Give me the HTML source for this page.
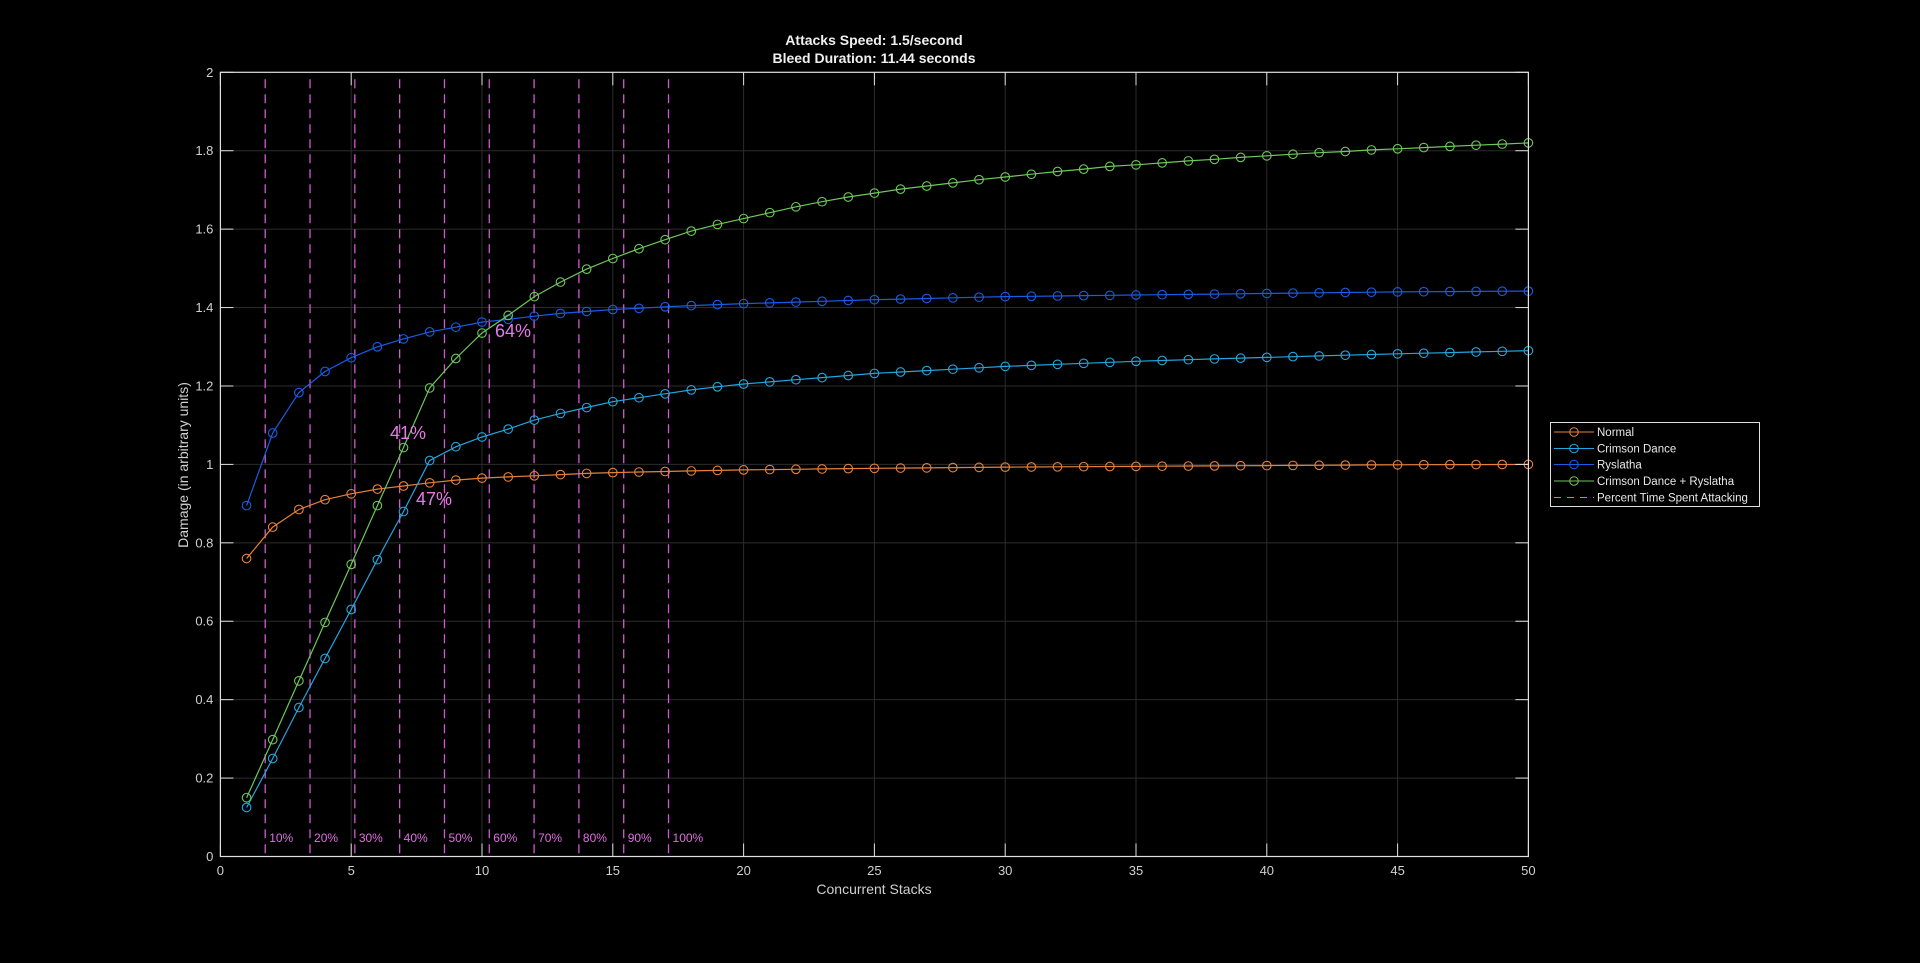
<!DOCTYPE html>
<html><head><meta charset="utf-8"><style>
html,body{margin:0;padding:0;background:#000;width:1920px;height:963px;overflow:hidden}
svg{display:block}
text{font-family:"Liberation Sans",Arial,sans-serif}
</style></head><body>
<svg id="s" width="1920" height="963" viewBox="0 0 1920 963" xmlns="http://www.w3.org/2000/svg">
<rect width="1920" height="963" fill="#000"/>
<g id="grid"></g>
<g id="dash"></g>
<g id="series"></g>
<g id="axes"></g>
<text x="874" y="45" fill="#f0f0f0" font-size="14" font-weight="bold" text-anchor="middle">Attacks Speed: 1.5/second</text>
<text x="874" y="63" fill="#f0f0f0" font-size="14" font-weight="bold" text-anchor="middle">Bleed Duration: 11.44 seconds</text>
<text x="874" y="894" fill="#d0d0d0" font-size="14" text-anchor="middle">Concurrent Stacks</text>
<text transform="translate(188,465) rotate(-90)" fill="#d0d0d0" font-size="14" text-anchor="middle">Damage (in arbitrary units)</text>
<text x="495" y="337" fill="#e87ae8" font-size="18">64%</text>
<text x="390" y="439" fill="#e87ae8" font-size="18">41%</text>
<text x="416" y="505" fill="#e87ae8" font-size="18">47%</text>
<g>
<rect x="1550.5" y="422.5" width="209" height="84" fill="#000" stroke="#e0e0e0" stroke-width="1"/>
<line x1="1554" y1="432" x2="1594" y2="432" stroke="#e8803a"/><circle cx="1574" cy="432" r="4.3" fill="none" stroke="#e8803a"/>
<text x="1597" y="436" fill="#e8e8e8" font-size="11.5">Normal</text>
<line x1="1554" y1="448.5" x2="1594" y2="448.5" stroke="#22a6e0"/><circle cx="1574" cy="448.5" r="4.3" fill="none" stroke="#22a6e0"/>
<text x="1597" y="452.5" fill="#e8e8e8" font-size="11.5">Crimson Dance</text>
<line x1="1554" y1="464.5" x2="1594" y2="464.5" stroke="#1a5ce6"/><circle cx="1574" cy="464.5" r="4.3" fill="none" stroke="#1a5ce6"/>
<text x="1597" y="468.5" fill="#e8e8e8" font-size="11.5">Ryslatha</text>
<line x1="1554" y1="481" x2="1594" y2="481" stroke="#6ec85a"/><circle cx="1574" cy="481" r="4.3" fill="none" stroke="#6ec85a"/>
<text x="1597" y="485" fill="#e8e8e8" font-size="11.5">Crimson Dance + Ryslatha</text>
<line x1="1554" y1="497.5" x2="1594" y2="497.5" stroke="#e060e0" stroke-dasharray="7,6"/>
<text x="1597" y="501.5" fill="#e8e8e8" font-size="11.5">Percent Time Spent Attacking</text>
</g>
</svg>
<script>
var NS="http://www.w3.org/2000/svg";
var X0=220.4,SX=26.16,Y0=856.5,SY=392.1,XR=X0+50*SX,YT=Y0-2*SY;
function X(v){return X0+v*SX}function Y(v){return Y0-v*SY}
function el(p,t,a,txt){var e=document.createElementNS(NS,t);for(var k in a)e.setAttribute(k,a[k]);if(txt!=null)e.textContent=txt;document.getElementById(p).appendChild(e);return e}
for(var i=5;i<50;i+=5)el("grid","line",{x1:X(i),y1:YT,x2:X(i),y2:Y0,stroke:"#2c2c2c","stroke-width":1});
for(var j=1;j<10;j++)el("grid","line",{x1:X0,y1:Y(j*0.2),x2:XR,y2:Y(j*0.2),stroke:"#2c2c2c","stroke-width":1});
for(var k=1;k<=10;k++){var xv=X(k*1.713);
el("dash","line",{x1:xv,y1:YT+7,x2:xv,y2:Y0,stroke:"#d458d4","stroke-width":1.3,"stroke-dasharray":"9,6"});
el("dash","text",{x:xv+4,y:842,fill:"#e070e0","font-size":12},(k*10)+"%");}
function interp(pts){var out=[];for(var n=1;n<=50;n++){for(var i=0;i<pts.length-1;i++){var a=pts[i],b=pts[i+1];if(n>=a[0]&&n<=b[0]){out.push(a[1]+(b[1]-a[1])*(n-a[0])/(b[0]-a[0]));break;}}}return out}
var normal=interp([[1,.76],[2,.84],[3,.885],[4,.91],[5,.925],[6,.937],[7,.945],[8,.953],[9,.96],[10,.965],[11,.968],[12,.971],[13,.974],[14,.977],[15,.979],[17,.982],[20,.986],[25,.99],[30,.993],[35,.995],[40,.997],[45,.999],[50,1.0]]);
var cd=interp([[1,.125],[2,.25],[3,.38],[4,.505],[5,.63],[6,.757],[7,.88],[8,1.01],[9,1.045],[10,1.07],[11,1.09],[12,1.113],[13,1.13],[14,1.145],[15,1.16],[16,1.17],[17,1.18],[18,1.19],[19,1.198],[20,1.205],[22,1.216],[25,1.232],[30,1.25],[35,1.263],[40,1.273],[45,1.282],[50,1.29]]);
var rys=interp([[1,.895],[2,1.08],[3,1.183],[4,1.237],[5,1.272],[6,1.3],[7,1.32],[8,1.338],[9,1.35],[10,1.363],[11,1.37],[12,1.378],[13,1.385],[14,1.39],[15,1.395],[16,1.398],[17,1.402],[18,1.405],[20,1.41],[25,1.42],[30,1.428],[35,1.432],[40,1.436],[45,1.44],[50,1.442]]);
var g=interp([[1,.15],[2,.298],[3,.448],[4,.597],[5,.745],[6,.895],[7,1.043],[8,1.195],[9,1.27],[10,1.335],[11,1.38],[12,1.428],[13,1.465],[14,1.498],[15,1.525],[16,1.55],[17,1.573],[18,1.595],[19,1.612],[20,1.627],[21,1.642],[22,1.657],[23,1.67],[24,1.682],[25,1.692],[26,1.702],[27,1.71],[28,1.718],[29,1.726],[30,1.733],[31,1.74],[32,1.747],[33,1.753],[34,1.76],[35,1.764],[36,1.769],[37,1.774],[38,1.778],[39,1.783],[40,1.787],[41,1.791],[42,1.795],[43,1.798],[44,1.802],[45,1.805],[46,1.808],[47,1.811],[48,1.814],[49,1.817],[50,1.82]]);
function series(d,c){var p=d.map(function(v,i){return X(i+1).toFixed(1)+","+Y(v).toFixed(1)}).join(" ");
el("series","polyline",{points:p,fill:"none",stroke:c,"stroke-width":1.2});
d.forEach(function(v,i){el("series","circle",{cx:X(i+1),cy:Y(v),r:4.3,fill:"none",stroke:c,"stroke-width":1.1})});}
series(normal,"#e8803a");series(cd,"#22a6e0");series(rys,"#1a5ce6");series(g,"#6ec85a");
el("axes","rect",{x:X0,y:YT,width:XR-X0,height:Y0-YT,fill:"none",stroke:"#e0e0e0","stroke-width":1.2});
for(var i=0;i<=50;i+=5){el("axes","line",{x1:X(i),y1:Y0,x2:X(i),y2:Y0-13,stroke:"#e0e0e0"});el("axes","line",{x1:X(i),y1:YT,x2:X(i),y2:YT+13,stroke:"#e0e0e0"});
el("axes","text",{x:X(i),y:875,fill:"#d0d0d0","font-size":13,"text-anchor":"middle"},String(i));}
for(var j=0;j<=10;j++){var v=j*0.2,yy=Y(v);el("axes","line",{x1:X0,y1:yy,x2:X0+13,y2:yy,stroke:"#e0e0e0"});el("axes","line",{x1:XR,y1:yy,x2:XR-13,y2:yy,stroke:"#e0e0e0"});
var lab=(Math.round(v*10)/10).toString();el("axes","text",{x:X0-7,y:yy+4.5,fill:"#d0d0d0","font-size":13,"text-anchor":"end"},lab);}
</script>
</body></html>
